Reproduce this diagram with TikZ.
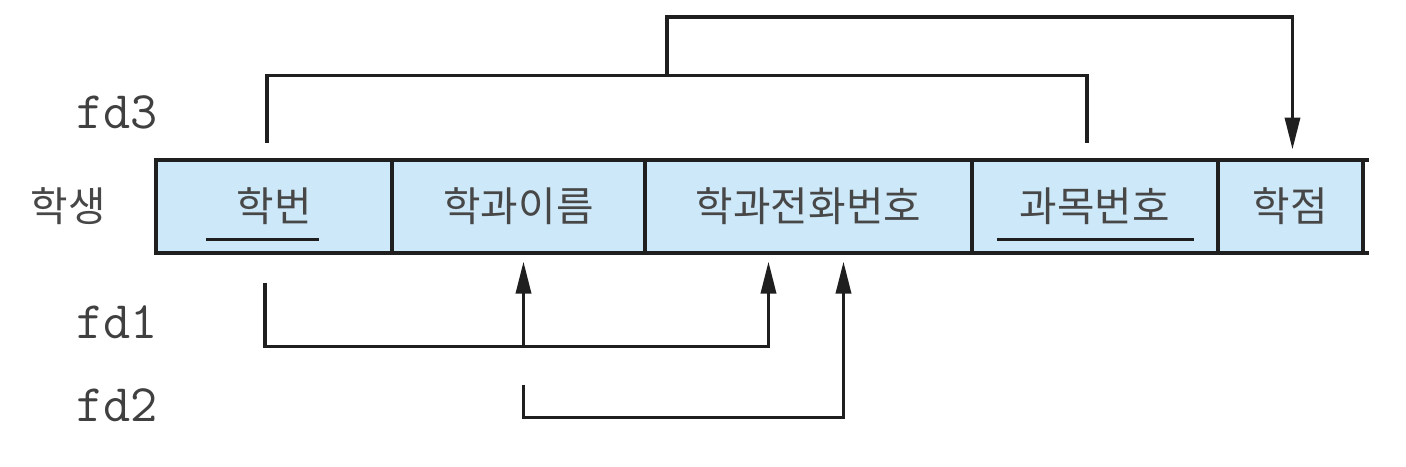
\documentclass[tikz,border=0pt]{standalone}
\usepackage{fontspec}
\newfontfamily\kor{Noto Sans CJK KR}
\usetikzlibrary{positioning,calc,arrows.meta}
\definecolor{cellblue}{HTML}{CDE8F8}

\begin{document}
\begin{tikzpicture}[x=0.1mm,y=-0.1mm,font=\kor\fontsize{11.6}{13}\selectfont]
\useasboundingbox (0,0) rectangle (1406,466);
% Styles: cells, lines and labels
\tikzstyle{cell}=[draw=black!88,line width=0.4mm,fill=cellblue,minimum height=9.3mm,inner sep=0,outer sep=0,text=black!72]
\tikzstyle{link}=[draw=black!88,line width=0.35mm]
\tikzstyle{fd arrow}=[link,-{Triangle[length=3.2mm,width=1.5mm]}]
\tikzstyle{fd label}=[font=\ttfamily\fontsize{15}{17}\selectfont,text=black!75]
% The relation
\node(c1)[cell,minimum width=23.6mm] at (274,206){학번};
\node(c2)[cell,minimum width=25.3mm,right=0pt of c1]{학과이름};
\node(c3)[cell,minimum width=32.7mm,right=0pt of c2]{학과전화번호};
\node(c4)[cell,minimum width=24.6mm,right=0pt of c3]{과목번호};
\node(c5)[cell,minimum width=14.5mm,right=0pt of c4]{학점};
\draw[line width=0.4mm,draw=black!88](c5.north east)--++(6,0);
\draw[line width=0.4mm,draw=black!88](c5.south east)--++(6,0);
\node(stu)[text=black!72,left=3.8mm of c1]{학생};
% key underlines
\draw[link]($(c1.south)+(-68,-13)$)--++(113,0);
\draw[link]($(c4.south)+(-98,-13)$)--++(197,0);
% labels
\node(fd3)[fd label] at (117,112){fd3};
\node(fd1)[fd label] at (117,322){fd1};
\node(fd2)[fd label] at (117,405){fd2};
% fd3
\coordinate(f3a) at ($(c1.north)+(-7,-17)$);
\coordinate(f3b) at ($(c4.north)+(-8,-17)$);
\coordinate(f3m) at (667,76);
\coordinate(f3t) at ($(c5.north)+(2,-10)$);
\draw[link](f3a)--++(0,-67)-|(f3b);
\draw[fd arrow](f3m)--++(0,-59)-|(f3t);
% fd1
\coordinate(f1a) at ($(c1.south)+(-9,30)$);
\coordinate(f1bar) at ($(f1a)+(0,64)$);
\coordinate(t2) at ($(c2.south)+(5,9)$);
\coordinate(t3) at ($(c3.south)+(-40,9)$);
\draw[fd arrow](f1a)--(f1bar)-|(t3);
\draw[fd arrow](t2|-f1bar)--(t2);
% fd2
\coordinate(f2a) at ($(t2)+(0,123)$);
\coordinate(t3b) at ($(c3.south)+(35,9)$);
\draw[fd arrow](f2a)--++(0,33)-|(t3b);
\end{tikzpicture}
\end{document}
